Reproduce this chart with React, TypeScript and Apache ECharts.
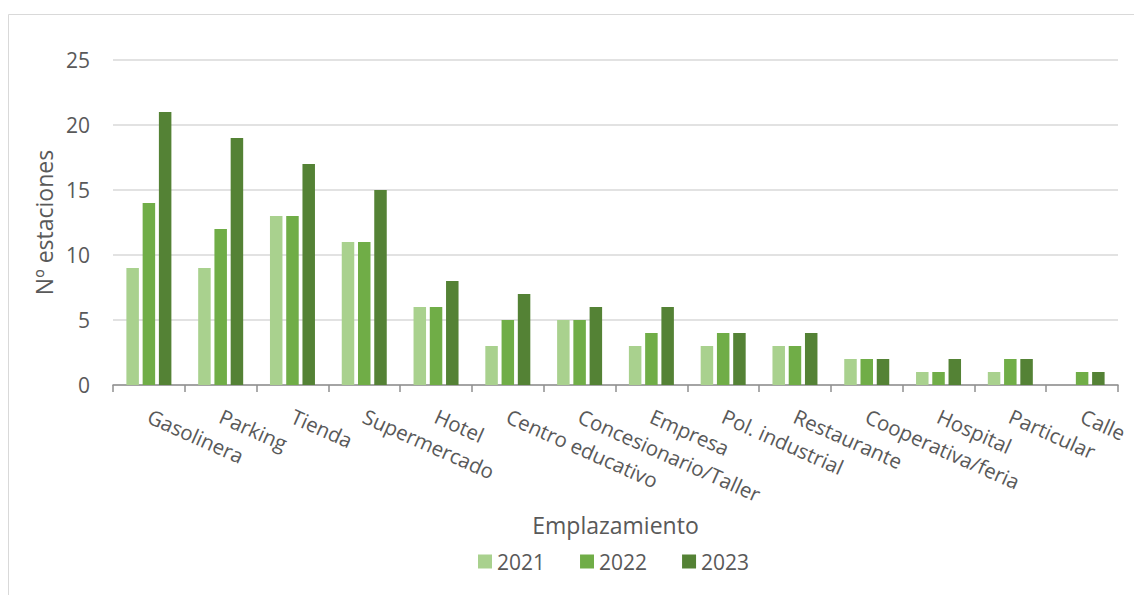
import React, { useEffect, useRef } from "react";
import * as echarts from "echarts";

const categories = [
  "Gasolinera",
  "Parking",
  "Tienda",
  "Supermercado",
  "Hotel",
  "Centro educativo",
  "Concesionario/Taller",
  "Empresa",
  "Pol. industrial",
  "Restaurante",
  "Cooperativa/feria",
  "Hospital",
  "Particular",
  "Calle",
];
const values2021: (number | null)[] = [9, 9, 13, 11, 6, 3, 5, 3, 3, 3, 2, 1, 1, null];
const values2022 = [14, 12, 13, 11, 6, 5, 5, 4, 4, 3, 2, 1, 2, 1];
const values2023 = [21, 19, 17, 15, 8, 7, 6, 6, 4, 4, 2, 2, 2, 1];
const seriesNames = ["2021", "2022", "2023"];
const colors = ["#A9D18E", "#70AD47", "#548235"];
const yTicks = { min: 0, max: 25, interval: 5 };

const FONT = "'Open Sans', sans-serif";
const TEXT = "#595959";

export default function App() {
  const ref = useRef<HTMLDivElement>(null);
  useEffect(() => {
    document.body.style.margin = "0";
    if (!ref.current) return;
    const chart = echarts.init(ref.current, null, { renderer: "svg" });
    const data = [values2021, values2022, values2023];
    chart.setOption({
      animation: false,
      backgroundColor: "#ffffff",
      textStyle: { fontFamily: FONT },
      graphic: [
        {
          type: "rect",
          z: -10,
          shape: { x: 8.5, y: 14.5, width: 1300, height: 800 },
          style: { fill: "none", stroke: "#d9d9d9", lineWidth: 1 },
        },
      ],
      grid: { left: 113, right: 16, top: 60, bottom: 210, containLabel: false },
      legend: {
        data: seriesNames,
        left: 473,
        top: 546,
        itemWidth: 14,
        itemHeight: 14,
        itemGap: 35,
        icon: "rect",
        textStyle: { color: TEXT, fontSize: 21, fontFamily: FONT },
      },
      xAxis: {
        type: "category",
        data: categories,
        name: "Emplazamiento",
        nameLocation: "middle",
        nameGap: 128,
        nameTextStyle: { color: TEXT, fontSize: 23, fontFamily: FONT },
        axisLine: { lineStyle: { color: "#8f8f8f", width: 1.5 } },
        axisTick: { show: true, length: 7, lineStyle: { color: "#8f8f8f", width: 1.5 } },
        axisLabel: {
          interval: 0,
          rotate: -24,
          margin: 30,
          color: TEXT,
          fontSize: 20.5,
          fontFamily: FONT,
        },
      },
      yAxis: {
        type: "value",
        min: yTicks.min,
        max: yTicks.max,
        interval: yTicks.interval,
        name: "Nº estaciones",
        nameLocation: "middle",
        nameGap: 56,
        nameTextStyle: { color: TEXT, fontSize: 23, fontFamily: FONT },
        axisLine: { show: false },
        axisTick: { show: false },
        axisLabel: { color: TEXT, fontSize: 21, fontFamily: FONT, margin: 23 },
        splitLine: { lineStyle: { color: "#d9d9d9", width: 1.5 } },
      },
      series: seriesNames.map((name, i) => ({
        name,
        type: "bar",
        data: data[i],
        barWidth: 12.5,
        barGap: "30%",
        itemStyle: { color: colors[i] },
      })),
    });
    return () => chart.dispose();
  }, []);
  return <div ref={ref} style={{ width: 1134, height: 595 }} />;
}
